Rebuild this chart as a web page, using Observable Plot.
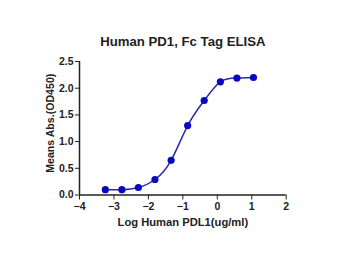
<!DOCTYPE html>
<html>
<head>
<meta charset="utf-8">
<script src="https://cdn.jsdelivr.net/npm/d3@7"></script>
<script src="https://cdn.jsdelivr.net/npm/@observablehq/plot@0.6"></script>
<style>
  html, body { margin: 0; padding: 0; background: #fff; }
  svg { font-family: "Liberation Sans", Arial, sans-serif; }
</style>
</head>
<body>
<div id="chart"></div>
<script>
const title = "Human PD1, Fc Tag ELISA";
const xLabel = "Log Human PDL1(ug/ml)";
const yLabel = "Means Abs.(OD450)";
const logConc = [-3.25, -2.77, -2.29, -1.81, -1.34, -0.86, -0.38, 0.09, 0.57, 1.05];
const od = [0.10, 0.10, 0.14, 0.29, 0.65, 1.30, 1.77, 2.12, 2.19, 2.20];
const xTicks = [-4, -3, -2, -1, 0, 1, 2];
const yTicks = [0, 0.5, 1.0, 1.5, 2.0, 2.5];

const data = logConc.map((x, i) => ({x, y: od[i]}));
const ink = "#0808c0";
const lineInk = "#2a2aa8";
const axisInk = "#222";

const chart = Plot.plot({
  width: 350,
  height: 256,
  marginTop: 61,
  marginBottom: 61.5,
  marginLeft: 79,
  marginRight: 64.3,
  style: {fontFamily: "Liberation Sans, Arial, sans-serif", fontWeight: "bold", color: axisInk},
  x: {domain: [-4, 2]},
  y: {domain: [0, 2.5]},
  marks: [
    Plot.axisX({ticks: xTicks, tickSize: 5, tickPadding: 2.5, fontSize: 10.5, fontWeight: "bold",
      tickFormat: d3.format("d"), label: null}),
    Plot.axisY({ticks: yTicks, tickSize: 4, tickPadding: 2, fontSize: 10.5, fontWeight: "bold",
      tickFormat: d3.format(".1f"), label: null}),
    Plot.ruleY([0], {stroke: axisInk, strokeWidth: 1.5}),
    Plot.ruleX([-4], {stroke: axisInk, strokeWidth: 1.5}),
    Plot.line(data, {x: "x", y: "y", curve: "natural", stroke: lineInk, strokeWidth: 1.5}),
    Plot.dot(data, {x: "x", y: "y", r: 3.6, fill: ink, stroke: "none"}),
    Plot.text([title], {frameAnchor: "top", lineAnchor: "middle", dy: -20, fontSize: 13.2, fontWeight: "bold", fill: axisInk}),
    Plot.text([xLabel], {frameAnchor: "bottom", lineAnchor: "middle", dy: 27, fontSize: 11.2, fontWeight: "bold", fill: axisInk}),
    Plot.text([yLabel], {frameAnchor: "left", textAnchor: "middle", lineAnchor: "middle", rotate: -90, dx: -29, dy: -5, fontSize: 10.6, fontWeight: "bold", fill: axisInk})
  ]
});
document.getElementById("chart").append(chart);
</script>
</body>
</html>
